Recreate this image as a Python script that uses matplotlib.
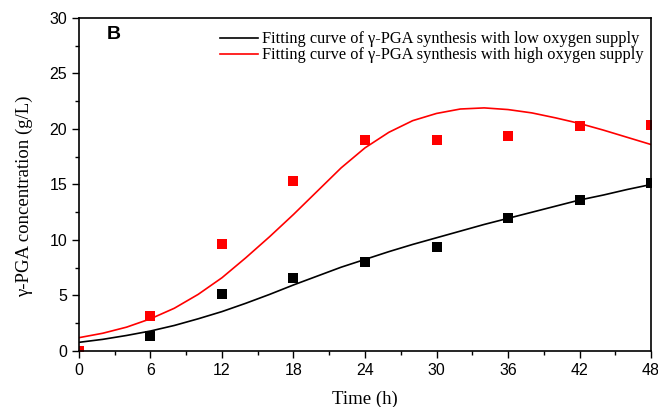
import matplotlib
matplotlib.use('Agg')
import matplotlib.pyplot as plt
from matplotlib.ticker import MultipleLocator

# measured points
time_pts = [0, 6, 12, 18, 24, 30, 36, 42, 48]
low_pts = [0.0, 1.32, 5.1, 6.55, 8.0, 9.4, 11.95, 13.6, 15.1]
high_pts = [0.0, 3.15, 9.6, 15.3, 19.0, 19.05, 19.4, 20.3, 20.4]

# fitted curves, every 2 h
fit_t = [0, 2, 4, 6, 8, 10, 12, 14, 16, 18, 20, 22, 24,
         26, 28, 30, 32, 34, 36, 38, 40, 42, 44, 46, 48]
fit_low = [0.78, 1.05, 1.4, 1.8, 2.3, 2.9, 3.55, 4.3, 5.1, 5.95, 6.75, 7.55, 8.25,
           8.95, 9.6, 10.2, 10.8, 11.4, 11.95, 12.5, 13.05, 13.6, 14.05, 14.55, 15.0]
fit_high = [1.2, 1.6, 2.15, 2.9, 3.85, 5.1, 6.6, 8.4, 10.3, 12.3, 14.4, 16.5, 18.3,
            19.7, 20.75, 21.4, 21.8, 21.9, 21.75, 21.45, 21.0, 20.5, 19.9, 19.25, 18.6]

serif = 'Liberation Serif'
sans = 'Liberation Sans'

fig = plt.figure(figsize=(6.58, 4.07), dpi=100)
ax = fig.add_axes([0.12, 0.1376, 0.8694, 0.8182])

ax.plot(fit_t, fit_low, color='black', lw=1.2,
        label=u'Fitting curve of \u03b3-PGA synthesis with low oxygen supply')
ax.plot(fit_t, fit_high, color='#ff0000', lw=1.2,
        label=u'Fitting curve of \u03b3-PGA synthesis with high oxygen supply')
ax.plot(time_pts, low_pts, 's', color='black', ms=7, mew=0)
ax.plot(time_pts, high_pts, 's', color='#ff0000', ms=7, mew=0)

ax.set_xlim(0, 48)
ax.set_ylim(0, 30)
ax.xaxis.set_major_locator(MultipleLocator(6))
ax.xaxis.set_minor_locator(MultipleLocator(3))
ax.yaxis.set_major_locator(MultipleLocator(5))
ax.yaxis.set_minor_locator(MultipleLocator(2.5))
ax.tick_params(which='major', direction='out', length=5, width=1, labelsize=11.5)
ax.tick_params(which='minor', direction='out', length=3, width=1)
for lab in ax.get_xticklabels() + ax.get_yticklabels():
    lab.set_fontfamily(sans)
for s in ax.spines.values():
    s.set_linewidth(1.2)

ax.set_xlabel('Time (h)', fontfamily=serif, fontsize=13.5, labelpad=9)
ax.set_ylabel(u'\u03b3-PGA concentration (g/L)', fontfamily=serif, fontsize=13.5)
ax.yaxis.set_label_coords(-0.08, 0.465)

ax.text(0.049, 0.975, 'B', transform=ax.transAxes, fontfamily=sans,
        fontweight='bold', fontsize=14, va='top', ha='left')

ax.legend(loc='upper right', frameon=False, prop={'family': serif, 'size': 11.8},
          handlelength=2.3, handletextpad=0.25, labelspacing=0.0,
          borderaxespad=0.0, borderpad=0.0, bbox_to_anchor=(0.987, 0.96))

fig.savefig('out.png', dpi=100)
